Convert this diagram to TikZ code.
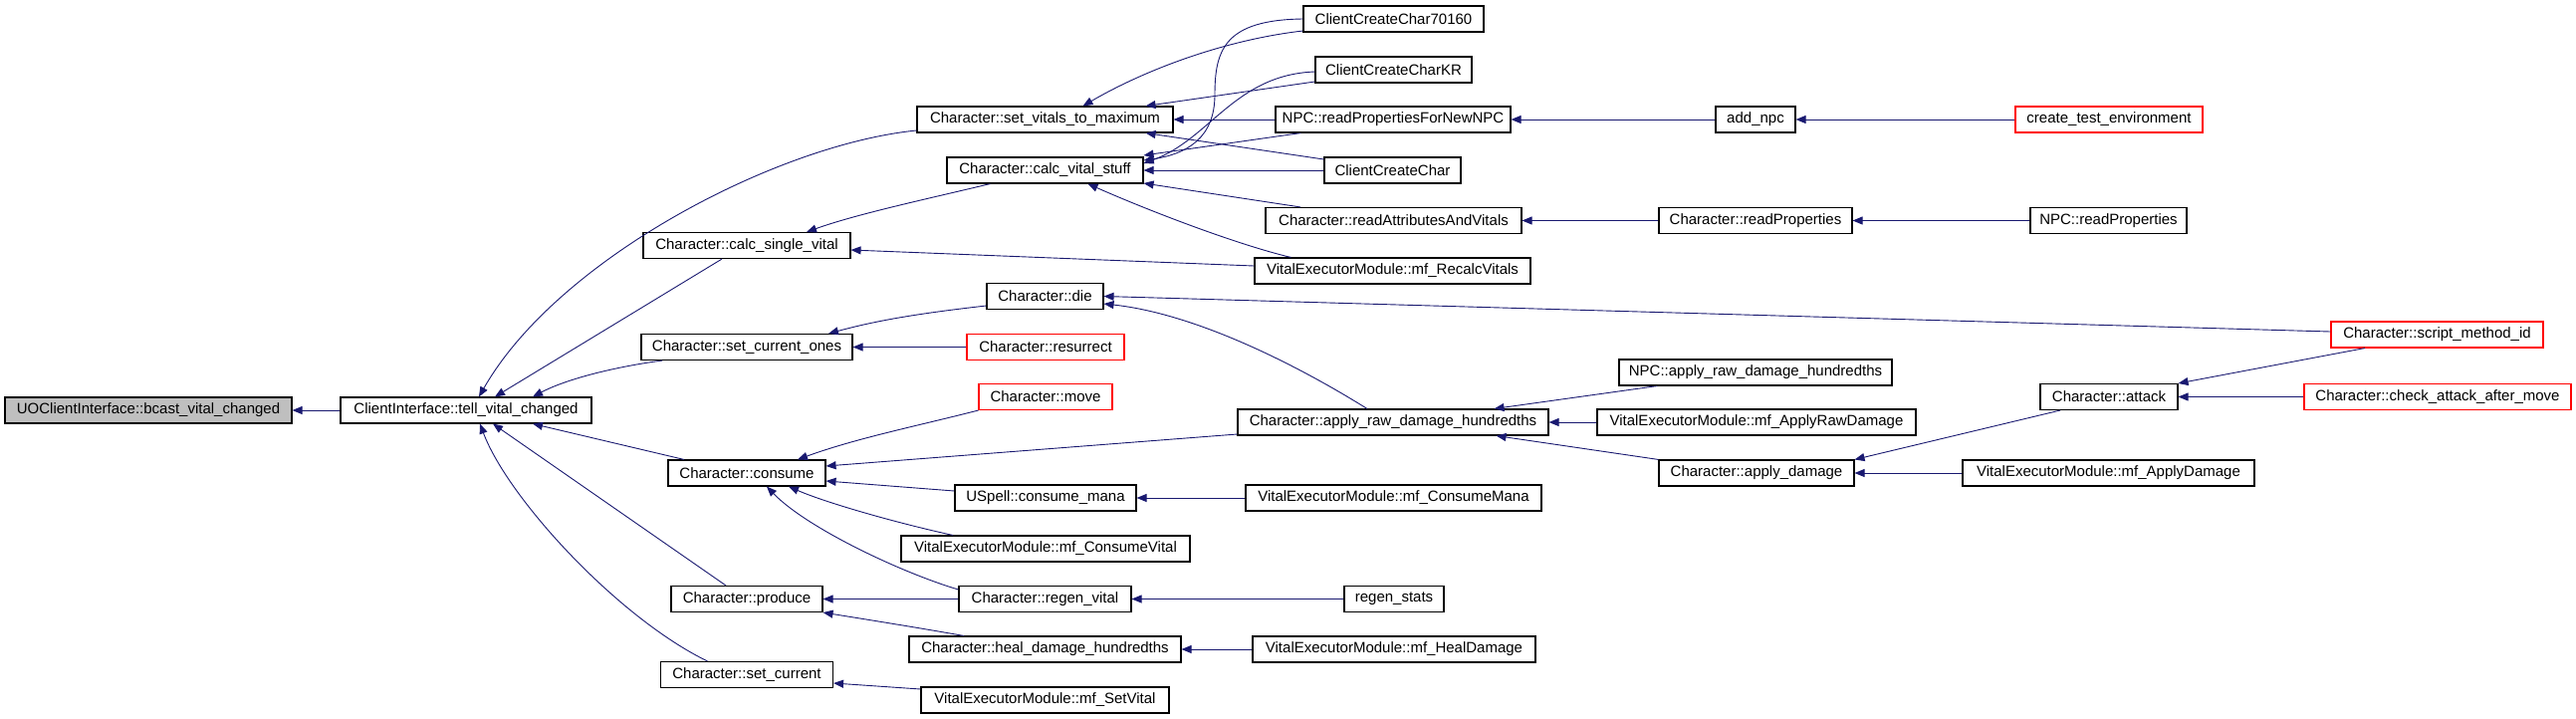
\documentclass[tikz,border=0pt]{standalone}
\usepackage{fontspec}
\setmainfont{Liberation Sans}
\usetikzlibrary{arrows.meta}
\definecolor{edgeblue}{HTML}{191970}
\definecolor{rootgray}{HTML}{BFBFBF}
\definecolor{linkred}{HTML}{FF0000}
\tikzset{
  fbox/.style={draw=black, fill=white, line width=1.1pt, minimum height=26pt, inner sep=0pt, font=\fontsize{15pt}{18pt}\selectfont},
  rootbox/.style={fbox, fill=rootgray},
  redbox/.style={fbox, draw=linkred},
  edge/.style={draw=edgeblue, line width=0.9pt, -{Triangle[length=10pt,width=8pt]}},
}
\begin{document}
\begin{tikzpicture}[x=1pt,y=-1pt]
\useasboundingbox (0,0) rectangle (2587,721);
% column 0/1
\node[rootbox, minimum width=288pt] (root) at (149,412) {UOClientInterface::bcast\_vital\_changed};
\node[fbox, minimum width=252pt] (tell) at (468,412) {ClientInterface::tell\_vital\_changed};
% column 2
\node[fbox, minimum width=257pt] (svm) at (1049.5,120) {Character::set\_vitals\_to\_maximum};
\node[fbox, minimum width=197pt] (cvs) at (1049.5,171) {Character::calc\_vital\_stuff};
\node[fbox, minimum width=208pt] (csv) at (750,246.5) {Character::calc\_single\_vital};
\node[fbox, minimum width=212pt] (sco) at (750,348.5) {Character::set\_current\_ones};
\node[fbox, minimum width=158pt] (consume) at (750,475) {Character::consume};
\node[fbox, minimum width=152pt] (produce) at (750,601.5) {Character::produce};
\node[fbox, minimum width=173pt] (sc) at (750,677.5) {Character::set\_current};
% column 3
\node[fbox, minimum width=117pt] (die) at (1049.5,297.5) {Character::die};
\node[redbox, minimum width=158pt] (res) at (1050,348.5) {Character::resurrect};
\node[redbox, minimum width=134pt] (move) at (1050,398.5) {Character::move};
\node[fbox, minimum width=182pt] (cm) at (1050,500) {USpell::consume\_mana};
\node[fbox, minimum width=290pt] (mfcv) at (1050,551) {VitalExecutorModule::mf\_ConsumeVital};
\node[fbox, minimum width=173pt] (rv) at (1049.5,601.5) {Character::regen\_vital};
\node[fbox, minimum width=273pt] (heal) at (1049.5,652) {Character::heal\_damage\_hundredths};
\node[fbox, minimum width=249pt] (mfsv) at (1049.5,703) {VitalExecutorModule::mf\_SetVital};
% column 4
\node[fbox, minimum width=181pt] (c70) at (1399.5,19) {ClientCreateChar70160};
\node[fbox, minimum width=157pt] (ckr) at (1399.5,70) {ClientCreateCharKR};
\node[fbox, minimum width=236pt] (rpnn) at (1399,120) {NPC::readPropertiesForNewNPC};
\node[fbox, minimum width=137pt] (ccc) at (1398.5,171) {ClientCreateChar};
\node[fbox, minimum width=257pt] (rav) at (1399.5,221.5) {Character::readAttributesAndVitals};
\node[fbox, minimum width=277pt] (mfrv) at (1398.5,272) {VitalExecutorModule::mf\_RecalcVitals};
\node[fbox, minimum width=312pt] (ar) at (1399,424) {Character::apply\_raw\_damage\_hundredths};
\node[fbox, minimum width=297pt] (mfcm) at (1399.5,500) {VitalExecutorModule::mf\_ConsumeMana};
\node[fbox, minimum width=100pt] (rs) at (1400,601.5) {regen\_stats};
\node[fbox, minimum width=284pt] (mfhd) at (1400,652) {VitalExecutorModule::mf\_HealDamage};
% column 5
\node[fbox, minimum width=80pt] (addnpc) at (1763,120) {add\_npc};
\node[fbox, minimum width=194pt] (rp) at (1763,221.5) {Character::readProperties};
\node[fbox, minimum width=274pt] (npcrad) at (1763,374) {NPC::apply\_raw\_damage\_hundredths};
\node[fbox, minimum width=320pt] (mfard) at (1764,424) {VitalExecutorModule::mf\_ApplyRawDamage};
\node[fbox, minimum width=196pt] (ad) at (1764,475) {Character::apply\_damage};
% column 6
\node[redbox, minimum width=188pt] (cte) at (2118,120) {create\_test\_environment};
\node[fbox, minimum width=157pt] (npcrp) at (2117.5,221.5) {NPC::readProperties};
\node[fbox, minimum width=138pt] (attack) at (2118,398.5) {Character::attack};
\node[fbox, minimum width=293pt] (mfad) at (2117.5,475) {VitalExecutorModule::mf\_ApplyDamage};
% column 7
\node[redbox, minimum width=213pt] (smi) at (2447.5,336) {Character::script\_method\_id};
\node[redbox, minimum width=268pt] (caam) at (2448,398.5) {Character::check\_attack\_after\_move};

% edges into tell / root
\draw[edge] (tell.west) -- (root.east);
\draw[edge] ([yshift=-11pt]svm.west) .. controls (780,145) and (560,260) .. ([xshift=13pt]tell.north);
\draw[edge] ([xshift=-25pt]csv.south) -- ([xshift=29pt]tell.north);
\draw[edge] ([xshift=-85pt]sco.south) .. controls (620,368) and (570,380) .. ([xshift=67pt]tell.north);
\draw[edge] ([xshift=-63pt]consume.north) -- ([xshift=67pt]tell.south);
\draw[edge] ([xshift=-21pt]produce.north) -- ([xshift=27pt]tell.south);
\draw[edge] ([xshift=-39.5pt]sc.north) .. controls (620,620) and (510,500) .. ([xshift=14pt]tell.south);
% column 2 incoming
\draw[edge] ([xshift=-55pt]cvs.south) .. controls (930,200) and (860,215) .. ([xshift=60pt]csv.north);
\draw[edge] ([yshift=-9.5pt]die.west) .. controls (920,315) and (880,322) .. ([xshift=82pt]sco.north);
\draw[edge] (res.west) -- (sco.east);
\draw[edge] (move.south west) .. controls (920,428) and (860,440) .. ([xshift=51pt]consume.north);
\draw[edge] ([yshift=-12pt]ar.west) -- ([yshift=7pt]consume.east);
\draw[edge] ([yshift=7pt]cm.west) -- ([yshift=-8pt]consume.east);
\draw[edge] ([xshift=-93pt]mfcv.north) .. controls (900,525) and (830,505) .. ([xshift=42pt]consume.south);
\draw[edge] ([yshift=9.5pt]rv.west) .. controls (905,575) and (810,530) .. ([xshift=20pt]consume.south);
\draw[edge] (rv.west) -- (produce.east);
\draw[edge] ([xshift=-81.5pt]heal.north) .. controls (920,630) and (870,622) .. (produce.south east);
\draw[edge] ([yshift=11pt]mfsv.west) -- ([yshift=-8.5pt]sc.east);
\draw[edge] ([yshift=-12pt]c70.west) .. controls (1230,40) and (1150,70) .. ([xshift=38pt]svm.north);
\draw[edge] (c70.west) .. controls (1230,20) and (1220,50) .. (1220,95) .. controls (1220,140) and (1190,155) .. ([yshift=10pt]cvs.east);
\draw[edge] ([yshift=-12pt]ckr.west) -- ([xshift=-28pt]svm.north east);
\draw[edge] ([yshift=-2pt]ckr.west) .. controls (1240,75) and (1215,140) .. ([yshift=7pt]cvs.east);
\draw[edge] (rpnn.west) -- (svm.east);
\draw[edge] ([xshift=26pt]rpnn.south west) -- ([yshift=15pt]cvs.east);
\draw[edge] ([yshift=11pt]ccc.west) -- ([xshift=-28pt]svm.south east);
\draw[edge] (ccc.west) -- (cvs.east);
\draw[edge] ([xshift=-93.5pt]rav.north) -- ([yshift=-13pt]cvs.east);
\draw[edge] ([xshift=-102pt]mfrv.north) .. controls (1240,245) and (1150,210) .. ([xshift=43pt]cvs.south);
\draw[edge] ([yshift=5pt]mfrv.west) -- ([yshift=-4.5pt]csv.east);
% right part
\draw[edge] (addnpc.west) -- (rpnn.east);
\draw[edge] (cte.west) -- (addnpc.east);
\draw[edge] (rp.west) -- (rav.east);
\draw[edge] (npcrp.west) -- (rp.east);
\draw[edge] ([yshift=3pt]smi.west) -- (die.east);
\draw[edge] ([xshift=-26pt]ar.north) .. controls (1300,365) and (1200,315) .. ([yshift=-7.5pt]die.east);
\draw[edge] ([xshift=39pt]npcrad.south west) -- ([xshift=-55pt]ar.north east);
\draw[edge] (mfard.west) -- (ar.east);
\draw[edge] (ad.north west) -- ([xshift=-53pt]ar.south east);
\draw[edge] ([xshift=-49pt]attack.south) -- (ad.north east);
\draw[edge] (mfad.west) -- (ad.east);
\draw[edge] ([xshift=-72.5pt]smi.south) -- (attack.north east);
\draw[edge] (caam.west) -- (attack.east);
\draw[edge] (mfcm.west) -- (cm.east);
\draw[edge] (rs.west) -- (rv.east);
\draw[edge] (mfhd.west) -- (heal.east);
\end{tikzpicture}
\end{document}
